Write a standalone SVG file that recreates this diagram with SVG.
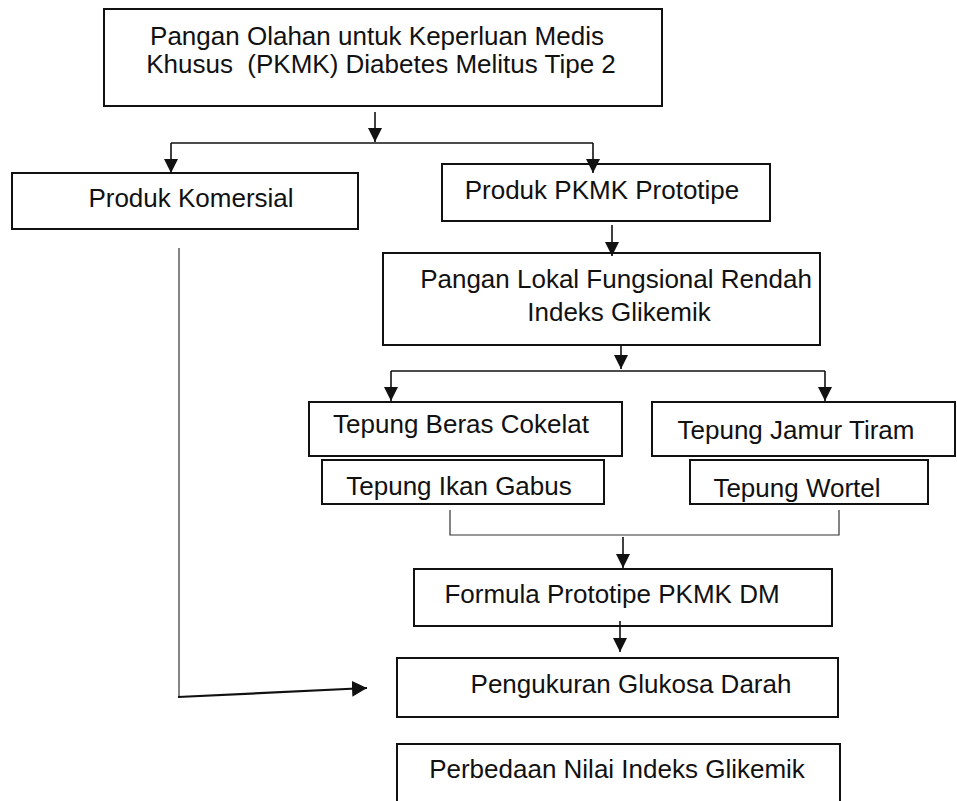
<svg xmlns="http://www.w3.org/2000/svg" width="957" height="801" viewBox="0 0 957 801">
<style>
.box{fill:#fff;stroke:#111;stroke-width:2}
.t{font-family:"Liberation Sans",Arial,sans-serif;font-size:26px;fill:#111;text-anchor:middle}
.c{fill:none;stroke:#111;stroke-width:1.6}
.thin{fill:none;stroke:#333;stroke-width:1.2}
</style>
<defs>
<marker id="ah" markerWidth="14" markerHeight="14" refX="14" refY="7" orient="auto" markerUnits="userSpaceOnUse" viewBox="0 0 14 14">
<path d="M0,0 L14,7 L0,14 Z" fill="#111"/>
</marker>
<marker id="ah2" markerWidth="15" markerHeight="16" refX="15" refY="8" orient="auto" markerUnits="userSpaceOnUse" viewBox="0 0 15 16">
<path d="M0,0 L15,8 L0,16 Z" fill="#111"/>
</marker>
</defs>
<rect width="957" height="801" fill="#fff"/>
<g id="n-top">
<rect class="box" x="104" y="9" width="558" height="97"/>
<text class="t" x="377" y="45">Pangan Olahan untuk Keperluan Medis</text>
<text class="t" x="381" y="73" xml:space="preserve">Khusus  (PKMK) Diabetes Melitus Tipe 2</text>
</g>
<g id="n-komersial">
<rect class="box" x="12" y="173" width="346" height="56"/>
<text class="t" x="191" y="207">Produk Komersial</text>
</g>
<g id="n-prototipe">
<rect class="box" x="442" y="164" width="328" height="57"/>
<text class="t" x="602" y="199">Produk PKMK Prototipe</text>
</g>
<g id="n-lokal">
<rect class="box" x="383" y="253" width="437" height="92"/>
<text class="t" x="616" y="288">Pangan Lokal Fungsional Rendah</text>
<text class="t" x="619" y="321">Indeks Glikemik</text>
</g>
<g id="n-beras">
<rect class="box" x="309" y="402" width="313" height="54"/>
<text class="t" x="461" y="433">Tepung Beras Cokelat</text>
</g>
<g id="n-ikan">
<rect class="box" x="322" y="460" width="282" height="44"/>
<text class="t" x="459" y="495">Tepung Ikan Gabus</text>
</g>
<g id="n-jamur">
<rect class="box" x="652" y="402" width="303" height="54"/>
<text class="t" x="796" y="439">Tepung Jamur Tiram</text>
</g>
<g id="n-wortel">
<rect class="box" x="690" y="460" width="238" height="44"/>
<text class="t" x="797" y="497">Tepung Wortel</text>
</g>
<g id="n-formula">
<rect class="box" x="414" y="569" width="418" height="57"/>
<text class="t" x="612" y="603">Formula Prototipe PKMK DM</text>
</g>
<g id="n-pengukuran">
<rect class="box" x="397" y="658" width="441" height="59"/>
<text class="t" x="631" y="693">Pengukuran Glukosa Darah</text>
</g>
<g id="n-perbedaan">
<path class="box" d="M397,802 V744 H840 V802"/>
<text class="t" x="617" y="778">Perbedaan Nilai Indeks Glikemik</text>
</g>
<g id="connectors">
<path class="c" d="M375,112 V142" marker-end="url(#ah)"/>
<path class="c" d="M171,143 H593"/>
<path class="c" d="M171,143 V173" marker-end="url(#ah)"/>
<path class="c" d="M593,143 V173" marker-end="url(#ah)"/>
<path class="c" d="M612,225 V256" marker-end="url(#ah)"/>
<path class="c" d="M621,345 V369" marker-end="url(#ah)"/>
<path class="c" d="M391,371 H825"/>
<path class="c" d="M391,371 V401" marker-end="url(#ah)"/>
<path class="c" d="M825,371 V401" marker-end="url(#ah)"/>
<path class="thin" d="M450,510 V535 H839 V510"/>
<path class="c" d="M623,537 V568" marker-end="url(#ah)"/>
<path class="c" d="M620,621 V652" marker-end="url(#ah)"/>
<path class="thin" d="M179,248 V697"/>
<path fill="none" stroke="#111" stroke-width="2.2" d="M178,697 L367,688" marker-end="url(#ah2)"/>
</g>
</svg>
